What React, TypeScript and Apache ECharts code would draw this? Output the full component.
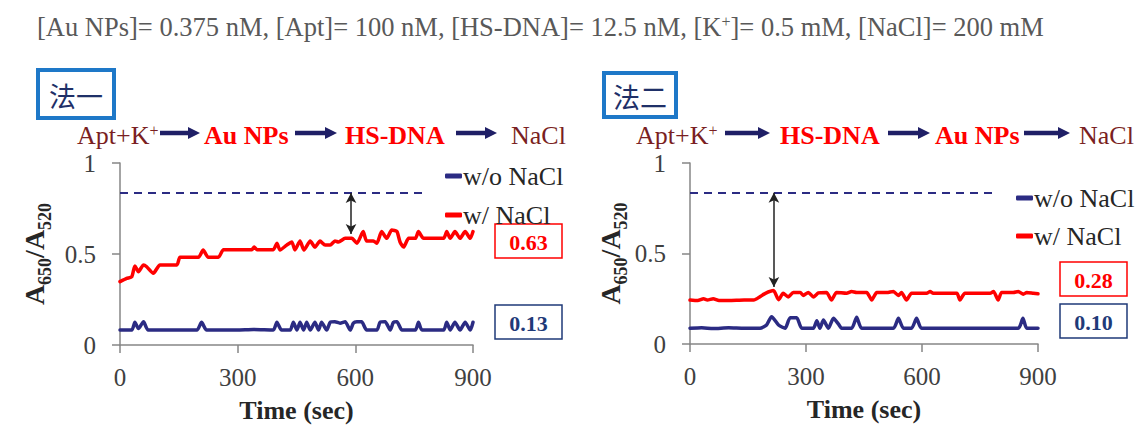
import React, { useEffect, useRef } from "react";
import * as echarts from "echarts";

// ---------- data ----------
const seriesNames = ["w/o NaCl", "w/ NaCl"];
const xMin = 0;
const xMax = 900;
const xInterval = 300;
const yMin = 0;
const yMax = 1;
const yInterval = 0.5;

const leftWithoutNaCl: number[][] = [
  [0, 0.082], [30, 0.082], [38, 0.125], [47, 0.09], [60, 0.128], [72, 0.082], [196, 0.082],
  [208, 0.125], [221, 0.082], [298, 0.082], [340, 0.085], [391, 0.082], [400, 0.125], [412, 0.082],
  [434, 0.082], [442, 0.125], [451, 0.082], [459, 0.125], [468, 0.082], [476, 0.125], [485, 0.082],
  [497, 0.125], [506, 0.082], [514, 0.125], [527, 0.082], [536, 0.125], [548, 0.128], [561, 0.12],
  [574, 0.128], [587, 0.082], [595, 0.12], [604, 0.128], [616, 0.128], [629, 0.082], [655, 0.082],
  [663, 0.125], [676, 0.128], [689, 0.082], [697, 0.125], [706, 0.128], [719, 0.082], [753, 0.082],
  [761, 0.125], [770, 0.082], [825, 0.082], [833, 0.125], [842, 0.082], [854, 0.125], [867, 0.082],
  [880, 0.125], [893, 0.082], [900, 0.125],
];

const leftWithNaCl: number[][] = [
  [0, 0.348], [17, 0.366], [30, 0.375], [38, 0.434], [47, 0.403], [60, 0.44], [68, 0.43], [85, 0.394],
  [102, 0.44], [145, 0.44], [153, 0.482], [200, 0.482], [212, 0.522], [225, 0.482], [251, 0.482],
  [264, 0.524], [336, 0.524], [342, 0.538], [349, 0.524], [391, 0.524], [400, 0.559], [408, 0.522],
  [425, 0.549], [438, 0.566], [446, 0.522], [459, 0.571], [469, 0.522], [485, 0.571], [497, 0.538],
  [510, 0.571], [523, 0.549], [536, 0.549], [548, 0.571], [557, 0.566], [574, 0.586], [591, 0.586],
  [604, 0.559], [620, 0.623], [629, 0.571], [646, 0.571], [655, 0.559], [667, 0.623], [680, 0.586],
  [693, 0.632], [706, 0.623], [714, 0.566], [723, 0.538], [736, 0.586], [753, 0.586], [761, 0.623],
  [774, 0.586], [825, 0.586], [833, 0.623], [842, 0.586], [854, 0.623], [867, 0.586], [880, 0.623],
  [893, 0.586], [900, 0.623],
];

const rightWithoutNaCl: number[][] = [
  [0, 0.087], [30, 0.09], [60, 0.085], [100, 0.09], [140, 0.087], [181, 0.087], [198, 0.105],
  [211, 0.151], [229, 0.105], [246, 0.087], [259, 0.145], [276, 0.145], [289, 0.087], [319, 0.087],
  [328, 0.128], [336, 0.087], [345, 0.132], [358, 0.087], [371, 0.142], [384, 0.11], [392, 0.087],
  [418, 0.087], [431, 0.148], [444, 0.087], [526, 0.087], [539, 0.142], [552, 0.087], [573, 0.087],
  [586, 0.142], [599, 0.087], [849, 0.087], [861, 0.142], [871, 0.087], [900, 0.087],
];

const rightWithNaCl: number[][] = [
  [0, 0.243], [20, 0.24], [35, 0.25], [45, 0.243], [60, 0.25], [75, 0.24], [100, 0.24], [140, 0.243],
  [165, 0.243], [180, 0.26], [195, 0.28], [216, 0.295], [229, 0.245], [241, 0.28], [254, 0.26],
  [267, 0.285], [285, 0.285], [293, 0.268], [306, 0.285], [319, 0.26], [332, 0.282], [353, 0.285],
  [366, 0.243], [379, 0.285], [405, 0.28], [418, 0.29], [431, 0.284], [457, 0.284], [470, 0.243],
  [483, 0.284], [509, 0.284], [526, 0.29], [539, 0.268], [547, 0.284], [560, 0.243], [573, 0.28],
  [612, 0.28], [621, 0.29], [629, 0.28], [690, 0.28], [698, 0.243], [711, 0.28], [776, 0.28],
  [785, 0.29], [797, 0.243], [806, 0.285], [836, 0.285], [849, 0.29], [862, 0.275], [871, 0.285],
  [888, 0.28], [900, 0.277],
];

const referenceLevel = 0.835;
const referenceEnd = 785;
const leftArrow = [589, 0.835, 0.61];
const rightArrow = [217, 0.835, 0.315];
const leftFinal = ["0.63", "0.13"];
const rightFinal = ["0.28", "0.10"];
const leftSteps = ["Apt+K{sup|+}", "Au NPs", "HS-DNA", "NaCl"];
const rightSteps = ["Apt+K{sup|+}", "HS-DNA", "Au NPs", "NaCl"];
const panelTitles = ["法一", "法二"];
const conditionText =
  "[Au NPs]= 0.375 nM, [Apt]= 100 nM, [HS-DNA]= 12.5 nM, [K{sup|+}]= 0.5 mM, [NaCl]= 200 mM";

// ---------- styles ----------
const SERIF = "'Liberation Serif', 'Times New Roman', serif";
const CJK = "'Noto Sans CJK TC', 'Noto Sans CJK SC', sans-serif";
const NAVY = "#2b2b83";
const RED = "#ff0000";
const MAROON = "#7a1f22";
const AXIS = "#868686";

export default function App() {
  const ref = useRef<HTMLDivElement>(null);

  useEffect(() => {
    if (!ref.current) return;
    const chart = echarts.init(ref.current, null, { renderer: "svg" });

    const grids = [
      { left: 120, top: 163, width: 353, height: 182 },
      { left: 690, top: 163, width: 348, height: 181 },
    ];

    const axisLine = { lineStyle: { color: AXIS, width: 1.5 } };
    const axisTick = { show: true, length: 8, lineStyle: { color: AXIS, width: 1.5 } };

    const xAxis = [0, 1].map((i) => ({
      type: "value",
      gridIndex: i,
      min: xMin,
      max: xMax,
      interval: xInterval,
      axisLine,
      axisTick,
      splitLine: { show: false },
      axisLabel: { color: "#404040", fontSize: 25, fontFamily: SERIF, margin: 20 },
      name: "Time (sec)",
      nameLocation: "middle",
      nameGap: 52,
      nameTextStyle: { fontWeight: "bold", fontSize: 26, color: "#262626", fontFamily: SERIF },
    }));

    const yAxis = [0, 1].map((i) => ({
      type: "value",
      gridIndex: i,
      min: yMin,
      max: yMax,
      interval: yInterval,
      axisLine,
      axisTick,
      splitLine: { show: false },
      axisLabel: { color: "#404040", fontSize: 25, fontFamily: SERIF, margin: 24 },
      name: "{a|A}{s|650}{a|/A}{s|520}",
      nameLocation: "middle",
      nameRotate: 90,
      nameGap: i === 0 ? 66 : 60,
      nameTextStyle: {
        rich: {
          a: { fontSize: 28, fontWeight: "bold", fontFamily: SERIF, color: "#262626", lineHeight: 34, verticalAlign: "top" },
          s: { fontSize: 18, fontWeight: "bold", fontFamily: SERIF, color: "#262626", lineHeight: 16, verticalAlign: "bottom" },
        },
      },
    }));

    const lineSeries = (name: string, data: number[][], color: string, idx: number, extra: any = {}) => ({
      name,
      type: "line",
      xAxisIndex: idx,
      yAxisIndex: idx,
      data,
      showSymbol: false,
      symbol: "none",
      smooth: 0.2,
      color,
      lineStyle: { color, width: 3.5, cap: "round", join: "round" },
      emphasis: { disabled: true },
      z: 3,
      ...extra,
    });

    const dashed = {
      markLine: {
        silent: true,
        symbol: ["none", "none"],
        label: { show: false },
        lineStyle: { color: NAVY, width: 2, type: [8, 6] },
        emphasis: { disabled: true },
        data: [[{ coord: [0, referenceLevel] }, { coord: [referenceEnd, referenceLevel] }]],
      },
    };
    const arrow = (a: number[]) => ({
      markLine: {
        silent: true,
        symbol: ["arrow", "arrow"],
        symbolSize: [8, 10],
        label: { show: false },
        lineStyle: { color: "#222", width: 1.5, type: "solid" },
        emphasis: { disabled: true },
        data: [[{ coord: [a[0], a[1]] }, { coord: [a[0], a[2]] }]],
      },
    });

    const series = [
      lineSeries(seriesNames[0], leftWithoutNaCl, NAVY, 0, dashed),
      lineSeries(seriesNames[1], leftWithNaCl, RED, 0, arrow(leftArrow)),
      lineSeries(seriesNames[0], rightWithoutNaCl, NAVY, 1, dashed),
      lineSeries(seriesNames[1], rightWithNaCl, RED, 1, arrow(rightArrow)),
    ];

    const legendBase = {
      data: seriesNames,
      orient: "vertical",
      icon: "roundRect",
      itemWidth: 17,
      itemHeight: 5,
      selectedMode: false,
      textStyle: { fontSize: 26, fontFamily: SERIF, color: "#262626", lineHeight: 26, padding: [0, 0, 0, -4] },
    };
    const legend = [
      { ...legendBase, left: 440, top: 158, itemGap: 13 },
      { ...legendBase, left: 1011, top: 180, itemGap: 12 },
    ];

    const graphic: any[] = [];
    // condition line
    graphic.push({
      type: "text",
      x: 37,
      y: 27,
      style: {
        text: conditionText,
        fontSize: 26.5,
        fontFamily: SERIF,
        fill: "#595959",
        verticalAlign: "middle",
        rich: { sup: { fontSize: 16, fontFamily: SERIF, fill: "#595959", lineHeight: 8, verticalAlign: "top" } },
      },
    });

    // panel title boxes
    const boxes = [
      { x: 38, y: 70, w: 76, h: 48 },
      { x: 604, y: 73, w: 72, h: 44 },
    ];
    boxes.forEach((b, i) => {
      graphic.push({
        type: "rect",
        shape: { x: b.x, y: b.y, width: b.w, height: b.h },
        style: { fill: "#fff", stroke: "#1e78c8", lineWidth: 4 },
      });
      graphic.push({
        type: "text",
        x: b.x + b.w / 2,
        y: b.y + b.h / 2 + 1,
        style: {
          text: panelTitles[i],
          fontSize: 27,
          fontFamily: CJK,
          fill: "#1f3068",
          align: "center",
          verticalAlign: "middle",
        },
      });
    });

    // flow steps
    const flowY = 135;
    const supRich = { sup: { fontSize: 16, fontFamily: SERIF, fill: MAROON, lineHeight: 10, verticalAlign: "top" } };
    const stepStyle = (s: string) => {
      const bold = s !== "NaCl" && s.indexOf("Apt") !== 0;
      return {
        text: s,
        fontSize: 26,
        fontFamily: SERIF,
        fontWeight: bold ? "bold" : "normal",
        fill: bold ? RED : MAROON,
        verticalAlign: "middle",
        rich: supRich,
      };
    };
    const leftStepX = [77, 204, 345, 511];
    const rightStepX = [636, 780, 935, 1079];
    leftSteps.forEach((s, i) => graphic.push({ type: "text", x: leftStepX[i], y: flowY, style: stepStyle(s) }));
    rightSteps.forEach((s, i) => graphic.push({ type: "text", x: rightStepX[i], y: flowY, style: stepStyle(s) }));

    const arrows = [
      [160, 200], [295, 337], [456, 497],
      [725, 770], [888, 930], [1024, 1070],
    ];
    const ay = 133;
    arrows.forEach(([x1, x2]) => {
      graphic.push({
        type: "line",
        shape: { x1, y1: ay, x2: x2 - 10, y2: ay },
        style: { stroke: "#1f1f66", lineWidth: 4.5 },
      });
      graphic.push({
        type: "polygon",
        shape: { points: [[x2 - 12, ay - 6], [x2, ay], [x2 - 12, ay + 6]] },
        style: { fill: "#1f1f66" },
      });
    });

    // final value boxes
    const valueBoxes = [
      { x: 495, y: 224, text: leftFinal[0], color: RED },
      { x: 495, y: 305, text: leftFinal[1], color: "#1f3a78" },
      { x: 1060, y: 262, text: rightFinal[0], color: RED },
      { x: 1060, y: 304, text: rightFinal[1], color: "#1f3a78" },
    ];
    valueBoxes.forEach((v) => {
      graphic.push({
        type: "rect",
        shape: { x: v.x, y: v.y, width: 67, height: 34 },
        style: { fill: "#fff", stroke: v.color, lineWidth: 1.5 },
      });
      graphic.push({
        type: "text",
        x: v.x + 33.5,
        y: v.y + 18,
        style: {
          text: v.text,
          fontSize: 22,
          fontWeight: "bold",
          fontFamily: SERIF,
          fill: v.color,
          align: "center",
          verticalAlign: "middle",
        },
      });
    });

    chart.setOption({
      animation: false,
      backgroundColor: "#ffffff",
      grid: grids,
      xAxis,
      yAxis,
      legend,
      series,
      graphic,
    } as any);

    return () => chart.dispose();
  }, []);

  return (
    <div
      ref={ref}
      style={{ position: "absolute", left: 0, top: 0, width: 1139, height: 427, background: "#fff" }}
    />
  );
}
